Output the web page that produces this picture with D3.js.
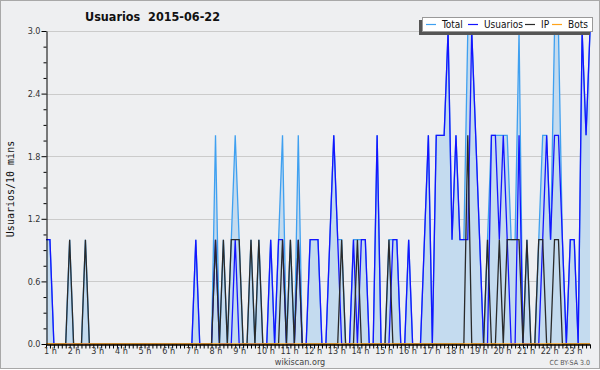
<!DOCTYPE html>
<html>
<head>
<meta charset="utf-8">
<script src="https://cdn.jsdelivr.net/npm/d3@7"></script>
<style>
  body { margin: 0; background: #fff; }
  svg { display: block; }
  text { font-family: "DejaVu Sans Condensed", "DejaVu Sans", sans-serif; }
</style>
</head>
<body>
<svg width="600" height="370"></svg>
<script>
// valores cada 10 min, 139 puntos (1 h .. 24 h)
const usuarios = [
  1,1,0,0,0,0,0,0,0,0,0,0,
  0,0,0,0,0,0,0,0,0,0,0,0,
  0,0,0,0,0,0,0,0,0,0,0,0,
  0,0,1,0,0,0,0,1,0,0,0,0,
  1,0,0,0,0,0,0,0,0,1,0,1,
  1,0,0,0,1,0,0,1,1,1,0,0,
  1,2,1,0,0,0,1,0,1,1,0,0,
  2,0,0,0,1,1,0,0,1,0,0,0,
  1,2,0,2,2,2,3,1,2,1,1,1,
  3,2,1,0,0,2,2,1,2,1,0,0,
  2,0,0,0,0,0,1,2,1,2,2,1,
  0,1,1,0,3,2,3
];
const ip = [
  0,0,0,0,0,0,1,0,0,0,1,0,
  0,0,0,0,0,0,0,0,0,0,0,0,
  0,0,0,0,0,0,0,0,0,0,0,0,
  0,0,0,0,0,0,0,1,0,1,0,1,
  1,1,0,0,1,0,1,0,0,0,0,0,
  1,0,1,0,1,0,0,0,0,0,0,0,
  0,0,0,1,0,0,0,1,0,0,0,0,
  0,0,0,1,0,0,0,0,0,0,0,0,
  0,0,0,0,0,0,0,0,0,0,0,2,
  0,0,0,0,1,0,0,1,0,1,1,1,
  1,0,1,0,0,1,1,0,0,1,1,0,
  0,0,0,0,0,0,0
];
const total = [
  1,1,0,0,0,0,1,0,0,0,1,0,
  0,0,0,0,0,0,0,0,0,0,0,0,
  0,0,0,0,0,0,0,0,0,0,0,0,
  0,0,1,0,0,0,0,2,0,1,0,1,
  2,1,0,0,1,0,1,0,0,1,0,1,
  2,0,1,0,2,0,0,1,1,1,0,0,
  1,2,1,1,0,0,1,1,1,1,0,0,
  2,0,0,1,1,1,0,0,1,0,0,0,
  1,2,0,2,2,2,3,1,2,1,1,3,
  3,2,1,0,1,2,2,2,2,2,1,1,
  3,0,1,0,0,1,2,2,1,3,3,1,
  0,1,1,0,3,2,3
];
const bots = [
  0,0,0,0,0,0,0,0,0,0,0,0,
  0,0,0,0,0,0,0,0,0,0,0,0,
  0,0,0,0,0,0,0,0,0,0,0,0,
  0,0,0,0,0,0,0,0,0,0,0,0,
  0,0,0,0,0,0,0,0,0,0,0,0,
  0,0,0,0,0,0,0,0,0,0,0,0,
  0,0,0,0,0,0,0,0,0,0,0,0,
  0,0,0,0,0,0,0,0,0,0,0,0,
  0,0,0,0,0,0,0,0,0,0,0,0,
  0,0,0,0,0,0,0,0,0,0,0,0,
  0,0,0,0,0,0,0,0,0,0,0,0,
  0,0,0,0,0,0,0
];
const hourLabels = ["1 h","2 h","3 h","4 h","5 h","6 h","7 h","8 h","9 h","10 h","11 h","12 h",
  "13 h","14 h","15 h","16 h","17 h","18 h","19 h","20 h","21 h","22 h","23 h"];
const yTicks = [0, 0.6, 1.2, 1.8, 2.4, 3.0];
const yMinor = [0.15,0.3,0.45,0.75,0.9,1.05,1.35,1.5,1.65,1.95,2.1,2.25,2.55,2.7,2.85];
const legendItems = [
  {name: "Total", color: "#3fa0f0"},
  {name: "Usuarios", color: "#1414ff"},
  {name: "IP", color: "#2a2a2a"},
  {name: "Bots", color: "#ffa31a"}
];

const svg = d3.select("svg");
const W = 600, H = 370;
const mLeft = 46, mRight = 590, mTop = 31, mBottom = 344;
const N = total.length;

// fondo y marco
svg.append("rect")
  .attr("x", 0.5).attr("y", 0.5)
  .attr("width", W - 1).attr("height", H - 2)
  .attr("fill", "#eeeff1")
  .attr("stroke", "#a8a8a8");

const x = d3.scaleLinear().domain([0, N - 1]).range([mLeft, mRight]);
const y = d3.scaleLinear().domain([0, 3]).range([mBottom, mTop]);

// rejilla
svg.append("g").selectAll("line")
  .data(yTicks.filter(d => d > 0))
  .join("line")
  .attr("x1", mLeft).attr("x2", mRight)
  .attr("y1", d => Math.round(y(d)) + 0.5)
  .attr("y2", d => Math.round(y(d)) + 0.5)
  .attr("stroke", "#cbcbcb");

// area total
const area = d3.area()
  .x((d, i) => x(i))
  .y0(y(0))
  .y1(d => y(d));
svg.append("path")
  .attr("d", area(total))
  .attr("fill", "#c4dbef");

const line = d3.line()
  .x((d, i) => x(i))
  .y(d => y(d));

const series = [total, usuarios, ip, bots];
series.forEach((s, k) => {
  svg.append("path")
    .attr("d", line(s))
    .attr("fill", "none")
    .attr("stroke", legendItems[k].color)
    .attr("stroke-width", 1.3)
    .attr("stroke-linejoin", "miter");
});

// eje Y
const yAxis = d3.axisLeft(y)
  .tickValues(yTicks)
  .tickFormat(d3.format(".1f"))
  .tickSize(5)
  .tickSizeOuter(0)
  .tickPadding(1);
const gy = svg.append("g")
  .attr("transform", `translate(${mLeft + 0.5},0)`)
  .call(yAxis);
const gyMinor = svg.append("g")
  .attr("transform", `translate(${mLeft + 0.5},0)`)
  .call(d3.axisLeft(y).tickValues(yMinor).tickFormat("").tickSize(3).tickSizeOuter(0));
gyMinor.select(".domain").remove();
gy.selectAll("text")
  .attr("font-size", 9)
  .attr("fill", "#333")
  .style("font-family", "'DejaVu Sans Condensed', sans-serif");
gy.select(".domain").attr("stroke", "#000");

// eje X
const xAxis = d3.axisBottom(x)
  .tickValues(d3.range(N))
  .tickFormat("")
  .tickSize(4)
  .tickSizeOuter(0);
const gx = svg.append("g")
  .attr("transform", `translate(0,${mBottom + 0.5})`)
  .call(xAxis);
gx.selectAll(".tick line").attr("stroke", "#000");
gx.select(".domain").attr("stroke", "#000").attr("stroke-width", 1.5);

svg.append("g").selectAll("text")
  .data(hourLabels)
  .join("text")
  .attr("x", (d, k) => x(k * 6) - 2)
  .attr("y", 354)
  .attr("font-size", 9)
  .attr("fill", "#333")
  .text(d => d);

// titulo
svg.append("text")
  .attr("x", 85).attr("y", 21)
  .attr("font-size", 12.5)
  .attr("font-weight", "bold")
  .attr("fill", "#111")
  .style("white-space", "pre")
  .text("Usuarios  2015-06-22");

// etiqueta eje Y
svg.append("text")
  .attr("transform", "translate(14,189) rotate(-90)")
  .attr("text-anchor", "middle")
  .attr("font-size", 10)
  .style("font-family", "'DejaVu Sans Mono', monospace")
  .attr("fill", "#111")
  .text("Usuarios/10 mins");

// leyenda
const lg = svg.append("g");
lg.append("rect")
  .attr("x", 419).attr("y", 20).attr("width", 171).attr("height", 15)
  .attr("fill", "#555");
lg.append("rect")
  .attr("x", 422.5).attr("y", 17.5).attr("width", 170).attr("height", 14)
  .attr("fill", "#fff").attr("stroke", "#999");
const legendPos = [
  {lx: 426, tx: 442},
  {lx: 468, tx: 484},
  {lx: 525, tx: 541},
  {lx: 552, tx: 568}
];
legendItems.forEach((it, k) => {
  lg.append("line")
    .attr("x1", legendPos[k].lx).attr("x2", legendPos[k].lx + 10)
    .attr("y1", 24.5).attr("y2", 24.5)
    .attr("stroke", it.color).attr("stroke-width", 1.2);
  lg.append("text")
    .attr("x", legendPos[k].tx).attr("y", 28)
    .attr("font-size", 10)
    .attr("fill", "#111")
    .text(it.name);
});

// pie
svg.append("text")
  .attr("x", 300).attr("y", 365)
  .attr("text-anchor", "middle")
  .attr("font-size", 9)
  .attr("fill", "#444")
  .text("wikiscan.org");
svg.append("text")
  .attr("x", 590).attr("y", 365)
  .attr("text-anchor", "end")
  .attr("font-size", 7)
  .attr("fill", "#555")
  .text("CC BY-SA 3.0");
</script>
</body>
</html>
